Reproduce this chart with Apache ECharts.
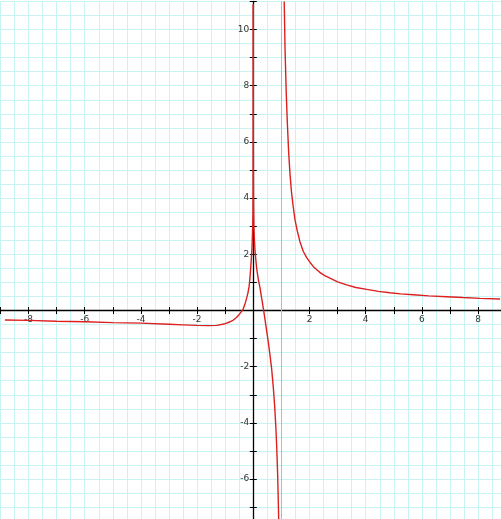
<!DOCTYPE html>
<html>
<head>
<meta charset="utf-8">
<script src="https://cdn.jsdelivr.net/npm/echarts@6/dist/echarts.min.js"></script>
<style>
  html, body { margin: 0; padding: 0; background: #ffffff; }
  #chart { width: 501px; height: 519px; }
</style>
</head>
<body>
<div id="chart"></div>
<script>
// Branch left of the y-axis (x < 0)
const leftX = [-8.84, -8, -7, -6, -5, -4, -3, -2.5, -2, -1.6, -1.3, -1, -0.85, -0.71, -0.6, -0.5, -0.43, -0.36, -0.3, -0.24, -0.19, -0.15, -0.12, -0.09, -0.07, -0.05, -0.035, -0.02, -0.01, -0.004, -0.001, -0.0002, -0.00003];
const leftY = [-0.34, -0.35, -0.38, -0.40, -0.43, -0.45, -0.49, -0.51, -0.53, -0.54, -0.53, -0.47, -0.41, -0.34, -0.25, -0.14, -0.05, 0.05, 0.22, 0.43, 0.63, 0.85, 1.15, 1.55, 1.85, 2.15, 2.55, 3.05, 3.7, 4.5, 5.9, 7.6, 10.9];

// Branch between the y-axis and the asymptote (0 < x < 1)
const middleX = [0.00003, 0.0002, 0.001, 0.004, 0.01, 0.02, 0.035, 0.06, 0.09, 0.12, 0.18, 0.24, 0.3, 0.36, 0.42, 0.47, 0.53, 0.59, 0.65, 0.71, 0.76, 0.8, 0.835, 0.865, 0.885, 0.905];
const middleY = [10.9, 7.6, 5.9, 4.5, 3.7, 3.05, 2.6, 2.15, 1.8, 1.5, 1.1, 0.8, 0.42, 0.06, -0.34, -0.69, -1.1, -1.55, -2.05, -2.71, -3.4, -4.1, -4.9, -5.8, -6.6, -7.5];

// Branch right of the asymptote (x > 1)
const rightX = [1.1, 1.13, 1.17, 1.21, 1.26, 1.31, 1.36, 1.42, 1.48, 1.56, 1.66, 1.78, 1.9, 2.02, 2.14, 2.27, 2.4, 2.56, 2.73, 3.0, 3.32, 3.65, 4.04, 4.45, 4.86, 5.25, 5.69, 6.25, 6.88, 7.45, 8.07, 8.78];
const rightY = [11, 9.3, 7.8, 6.7, 5.6, 4.8, 4.2, 3.7, 3.25, 2.85, 2.45, 2.1, 1.88, 1.71, 1.56, 1.44, 1.33, 1.23, 1.15, 1.02, 0.91, 0.82, 0.75, 0.68, 0.63, 0.59, 0.56, 0.52, 0.49, 0.46, 0.43, 0.41];

// Vertical asymptote
const asymptoteX = 1;

// Axis ranges (world units, whole numbers so ticks land on integers) and tick labels
const xRange = [-9, 9];
const yRange = [-8, 11];
const xTickLabels = [-8, -6, -4, -2, 2, 4, 6, 8];
const yTickLabels = [-6, -4, -2, 2, 4, 6, 8, 10];

// Plot rectangle in pixels (extends a little past the canvas edges)
const plot = { left: 0.4, top: 1.4, width: 505.8, height: 533.9 };
const zeroPx = plot.left + plot.width * (0 - xRange[0]) / (xRange[1] - xRange[0]);
const zeroPy = plot.top + plot.height * (yRange[1] - 0) / (yRange[1] - yRange[0]);

const zip = (xs, ys) => xs.map((x, i) => [x, ys[i]]);

const curveColor = '#dd1f1f';
const gridColor = '#c9f4f4';
const labelStyle = { fontFamily: 'DejaVu Sans', fontSize: 9, color: '#333333' };
const labelFor = list => v => list.indexOf(v) >= 0 ? String(v) : '';

// Axes are placed through the origin with explicit offsets so line, ticks and labels move together
function valueAxis(range, extra) {
  return Object.assign({
    type: 'value',
    min: range[0],
    max: range[1],
    interval: 1,
    axisLine: { show: false, onZero: false },
    axisTick: { show: true, length: 3.5, lineStyle: { color: '#000000', width: 1 } },
    splitLine: { show: false },
    minorTick: { show: false, splitNumber: 2 },
    minorSplitLine: { show: false },
    axisLabel: { show: false }
  }, extra);
}

const axisLineStyle = { show: true, onZero: false, lineStyle: { color: '#000000', width: 1.3 } };

const chart = echarts.init(document.getElementById('chart'), null, { renderer: 'canvas' });

const curve = (xs, ys) => ({
  type: 'line',
  xAxisIndex: 0,
  yAxisIndex: 0,
  data: zip(xs, ys),
  showSymbol: false,
  smooth: false,
  clip: true,
  z: 5,
  lineStyle: { color: curveColor, width: 1.4 },
  emphasis: { disabled: true }
});

chart.setOption({
  animation: false,
  backgroundColor: '#ffffff',
  grid: Object.assign({ outerBoundsMode: 'none', containLabel: false }, plot),
  xAxis: [
    valueAxis(xRange, {
      position: 'bottom',
      offset: zeroPy - (plot.top + plot.height),
      axisLine: axisLineStyle,
      splitLine: { show: true, lineStyle: { color: gridColor, width: 1 } },
      minorSplitLine: { show: true, lineStyle: { color: gridColor, width: 1 } },
      axisLabel: Object.assign({ show: true, margin: 5, formatter: labelFor(xTickLabels) }, labelStyle)
    }),
    valueAxis(xRange, {
      position: 'top',
      offset: plot.top - zeroPy
    })
  ],
  yAxis: [
    valueAxis(yRange, {
      position: 'left',
      offset: plot.left - zeroPx,
      axisLine: axisLineStyle,
      splitLine: { show: true, lineStyle: { color: gridColor, width: 1 } },
      minorSplitLine: { show: true, lineStyle: { color: gridColor, width: 1 } },
      axisLabel: Object.assign({ show: true, margin: 4, formatter: labelFor(yTickLabels) }, labelStyle)
    }),
    valueAxis(yRange, {
      position: 'right',
      offset: zeroPx - (plot.left + plot.width)
    })
  ],
  series: [
    {
      type: 'line',
      xAxisIndex: 0,
      yAxisIndex: 0,
      data: [],
      z: 1,
      markLine: {
        silent: true,
        symbol: 'none',
        label: { show: false },
        lineStyle: { color: '#b9b9b9', width: 1, type: 'solid' },
        data: [{ xAxis: asymptoteX }]
      }
    },
    curve(leftX, leftY),
    curve(middleX, middleY),
    curve(rightX, rightY)
  ]
});
</script>
</body>
</html>
